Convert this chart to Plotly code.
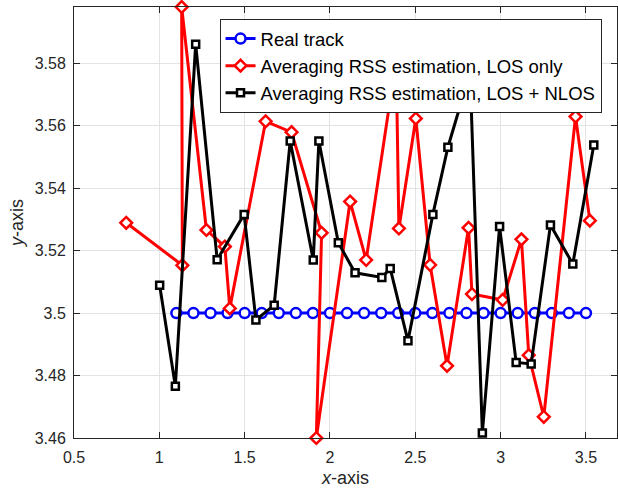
import plotly.graph_objects as go

# Real track
real_x = [1.1, 1.2, 1.3, 1.4, 1.5, 1.6, 1.7, 1.8, 1.9, 2.0, 2.1, 2.2, 2.3, 2.4, 2.5,
          2.6, 2.7, 2.8, 2.9, 3.0, 3.1, 3.2, 3.3, 3.4, 3.5]
real_y = [3.5] * 25

# Averaging RSS estimation, LOS only
los_x = [0.806, 1.135, 1.131, 1.276, 1.384, 1.413, 1.623, 1.775, 1.951, 1.920,
         2.118, 2.212, 2.388, 2.404, 2.503, 2.587, 2.686, 2.812, 2.832, 3.012,
         3.122, 3.165, 3.253, 3.439, 3.523]
los_y = [3.5289, 3.5153, 3.598, 3.5266, 3.5213, 3.5015, 3.5614, 3.5579, 3.5257, 3.4600,
         3.5357, 3.5170, 3.5810, 3.5271, 3.5623, 3.5154, 3.4831, 3.5273, 3.5061, 3.5042,
         3.5236, 3.4865, 3.4668, 3.5629, 3.5296]

# Averaging RSS estimation, LOS + NLOS
nlos_x = [1.002, 1.094, 1.213, 1.339, 1.497, 1.566, 1.673, 1.767, 1.902, 1.935,
          2.049, 2.147, 2.304, 2.353, 2.457, 2.603, 2.691, 2.821, 2.893, 2.994,
          3.091, 3.179, 3.292, 3.423, 3.546]
nlos_y = [3.5089, 3.4766, 3.5861, 3.5171, 3.5316, 3.4978, 3.5025, 3.5551, 3.5170, 3.5551,
          3.5225, 3.5129, 3.5114, 3.5143, 3.4911, 3.5316, 3.5531, 3.5770, 3.4616, 3.5277,
          3.4842, 3.4837, 3.5282, 3.5157, 3.5538]

x_ticks = [0.5, 1, 1.5, 2, 2.5, 3, 3.5]
x_ticktext = ["0.5", "1", "1.5", "2", "2.5", "3", "3.5"]
y_ticks = [3.46, 3.48, 3.5, 3.52, 3.54, 3.56, 3.58]
y_ticktext = ["3.46", "3.48", "3.5", "3.52", "3.54", "3.56", "3.58"]

FONT = "Liberation Sans, Arial, Helvetica, sans-serif"
AX = "#262626"

fig = go.Figure()
fig.add_trace(go.Scatter(
    x=real_x, y=real_y, mode="lines+markers", name="Real track",
    line=dict(color="#0000ff", width=3),
    marker=dict(symbol="circle", size=10, color="white", line=dict(color="#0000ff", width=2.5)),
    cliponaxis=False))
fig.add_trace(go.Scatter(
    x=los_x, y=los_y, mode="lines+markers", name="Averaging RSS estimation, LOS only",
    line=dict(color="#ff0000", width=3),
    marker=dict(symbol="diamond", size=9, color="white", line=dict(color="#ff0000", width=2.5)),
    cliponaxis=False))
fig.add_trace(go.Scatter(
    x=nlos_x, y=nlos_y, mode="lines+markers", name="Averaging RSS estimation, LOS + NLOS",
    line=dict(color="#000000", width=3),
    marker=dict(symbol="square", size=7, color="white", line=dict(color="#000000", width=2.5)),
    cliponaxis=False))

axis_common = dict(
    showline=True, linecolor=AX, linewidth=1, mirror="ticks",
    ticks="inside", ticklen=6, tickcolor=AX, tickwidth=1,
    showgrid=True, gridcolor="#e3e3e3", gridwidth=1, zeroline=False,
    tickfont=dict(family=FONT, size=16, color="#262626"),
)

fig.update_xaxes(range=[0.5, 3.682], tickvals=x_ticks, ticktext=x_ticktext,
                 title=dict(text="<i>x</i>-axis", font=dict(family=FONT, size=18, color="#262626"), standoff=6),
                 ticklabelstandoff=5,
                 **axis_common)
fig.update_yaxes(range=[3.46, 3.598], tickvals=y_ticks, ticktext=y_ticktext,
                 title=dict(text="<i>y</i>-axis", font=dict(family=FONT, size=18, color="#262626"), standoff=6),
                 ticklabelstandoff=4,
                 **axis_common)

fig.update_layout(
    width=618, height=491,
    margin=dict(l=74, r=1, t=7, b=53),
    plot_bgcolor="white", paper_bgcolor="white",
    font=dict(family=FONT, color="#262626"),
    legend=dict(x=0.268, y=0.972, xanchor="left", yanchor="top",
                bgcolor="white", bordercolor=AX, borderwidth=1,
                font=dict(family=FONT, size=18.5, color="black"),
                tracegroupgap=0),
    showlegend=True,
)

fig.write_html("out.html")
